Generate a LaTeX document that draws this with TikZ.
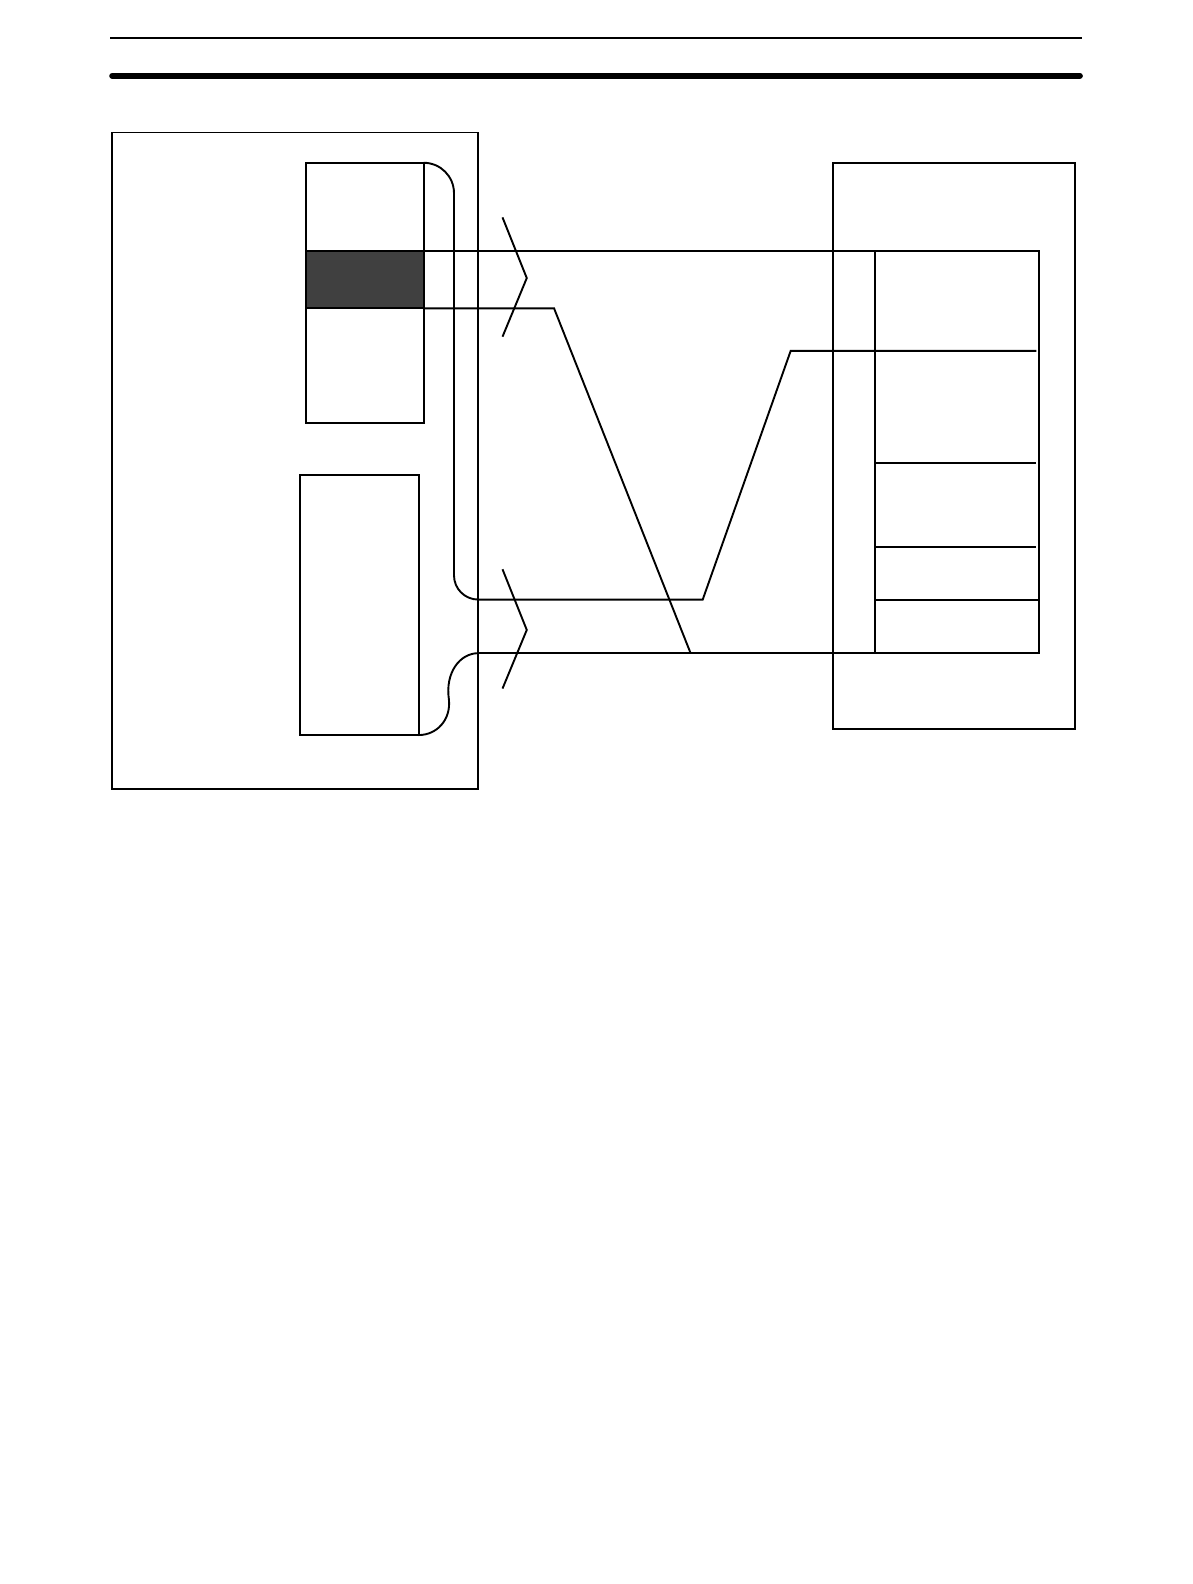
\documentclass[tikz,border=0pt]{standalone}
\definecolor{band}{HTML}{404040}
\begin{document}
\begin{tikzpicture}[x=1pt,y=-1pt,line width=1.9pt,
  ln/.style={draw=black,line width=1.9pt},
  brk/.style={draw=black,line width=1.9pt}]
\useasboundingbox[fill=white] (0,0) rectangle (1192,1584);
\begin{scope}[scale=1.0111]
% header rules
\draw[line width=1.9pt] (109,38) -- (1070,38);
\draw[line width=6pt,line cap=round] (111,75) -- (1068,75);
% left unit
\draw[ln] (111,131) rectangle (473,780);
\coordinate (ub1) at (303,161); \coordinate (ub2) at (419,418);
\fill[band] (303,248) rectangle (419,305);
\draw[ln] (ub1) rectangle (ub2);
\draw[ln] (303,248) -- (419,248) (303,305) -- (419,305);
\coordinate (lb1) at (297,470); \coordinate (lb2) at (414,727);
\draw[ln] (lb1) rectangle (lb2);
% right unit
\draw[ln] (824,161) rectangle (1063,721);
\draw[ln] (865,248) -- (865,646);
\draw[ln] (865,458) -- (1025,458);
\draw[ln] (865,541) -- (1025,541);
\draw[ln] (865,593) -- (1028,593);
% wires
\draw[ln] (419,248) -- (1028,248) -- (1028,646) -- (473,646);
\draw[ln] (419,305) -- (548,305) -- (683,646);
\draw[ln] (419,161) .. controls (435.6,161) and (449,174.4) .. (449,191)
  -- (449,569) .. controls (449,582.3) and (459.7,593) .. (473,593)
  -- (695,593) -- (782,347) -- (1025,347);
\draw[ln] (414,727) .. controls (432,727) and (446,712) .. (444,692)
  .. controls (440,665) and (455,646) .. (473,646);
% break marks
\draw[brk] (497,215) -- (521,275) -- (497,333);
\draw[brk] (497,563) -- (521,623) -- (497,681);
\end{scope}
\end{tikzpicture}
\end{document}
